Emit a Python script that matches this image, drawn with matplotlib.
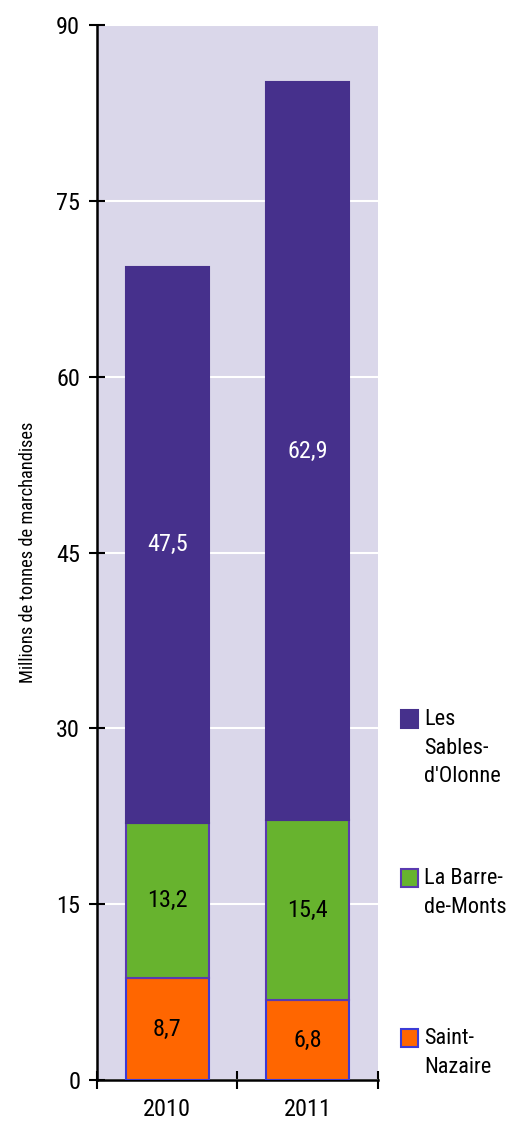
import numpy as np
import matplotlib.pyplot as plt
from matplotlib.patches import Rectangle

plt.rcParams['font.family'] = ['Roboto Condensed', 'Archivo Narrow', 'DejaVu Sans']

# Données (millions de tonnes)
annees = ['2010', '2011']
saint_nazaire = [8.7, 6.8]
barre_de_monts = [13.2, 15.4]
sables_olonne = [47.5, 62.9]

series = ["Les\nSables-\nd'Olonne", "La Barre-\nde-Monts", "Saint-\nNazaire"]
couleurs = ['#46308c', '#67b32e', '#ff6600']
bords = ['#46308c', '#5a3ab0', '#3b3bd6']

fig = plt.figure(figsize=(5.1, 11.22), dpi=100)
ax = fig.add_axes([0.19, 0.0374, 0.551, 0.9403])
ax.set_facecolor('#dad7ea')

x = np.arange(len(annees)) + 0.5
w = 0.59
b1 = ax.bar(x, saint_nazaire, w, color=couleurs[2], edgecolor=bords[2], linewidth=1.5, zorder=3)
bas = np.array(saint_nazaire)
b2 = ax.bar(x, barre_de_monts, w, bottom=bas, color=couleurs[1], edgecolor=bords[1], linewidth=1.5, zorder=3)
bas = bas + np.array(barre_de_monts)
b3 = ax.bar(x, sables_olonne, w, bottom=bas, color=couleurs[0], edgecolor=bords[0], linewidth=1.5, zorder=3)

def etiquettes(barres, couleur):
    for r in barres:
        v = r.get_height()
        ax.text(r.get_x() + r.get_width() / 2, r.get_y() + v / 2, f'{v:.1f}'.replace('.', ','),
                ha='center', va='center', fontsize=17.5, color=couleur, zorder=4)

etiquettes(b1, 'black')
etiquettes(b2, 'black')
etiquettes(b3, 'white')

ax.set_xlim(0, 2)
ax.set_ylim(0, 90)
ax.set_yticks(np.arange(0, 91, 15))
ax.set_xticks([0, 1, 2])
ax.set_xticklabels([])
ax.set_xticks(x, minor=True)
ax.set_xticklabels(annees, minor=True, fontsize=17.5)
ax.tick_params(axis='x', which='minor', length=0, pad=13)
ax.tick_params(axis='x', which='major', direction='inout', length=13, width=1.5)
ax.tick_params(axis='y', direction='inout', length=12, width=1.5, labelsize=17.5, pad=6)
ax.yaxis.grid(True, color='white', linewidth=1.5, zorder=1)
ax.set_axisbelow(True)
for s in ['top', 'right']:
    ax.spines[s].set_visible(False)
for s in ['left', 'bottom']:
    ax.spines[s].set_linewidth(1.8)

ax.set_ylabel('Millions de tonnes de marchandises', fontsize=13.2, labelpad=14)

# légende à droite
ys = [1 - 728 / 1122, 1 - 887 / 1122, 1 - 1047 / 1122]
for lab, c, e, y in zip(series, couleurs, bords, ys):
    fig.patches.append(Rectangle((0.786, y), 0.034, 0.0158, transform=fig.transFigure,
                                 facecolor=c, edgecolor=e, linewidth=1.5))
    fig.text(0.831, y + 0.0165, lab, fontsize=16, va='top', ha='left', linespacing=1.45)

fig.savefig('out.png', dpi=100)
